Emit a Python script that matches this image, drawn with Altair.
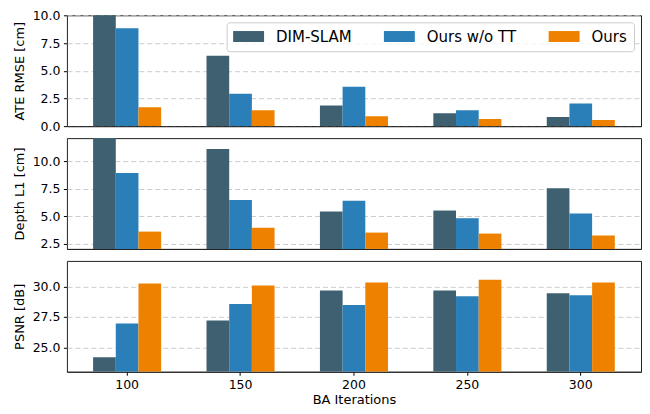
import altair as alt
import pandas as pd

iterations = ["100", "150", "200", "250", "300"]
methods = ["DIM-SLAM", "Ours w/o TT", "Ours"]
colors = ["#3e6070", "#2a7fb8", "#ee8200"]

ate_dim = [10.4, 6.36, 1.87, 1.17, 0.82]
ate_wott = [8.83, 2.93, 3.55, 1.43, 2.05]
ate_ours = [1.70, 1.43, 0.90, 0.64, 0.55]

depth_dim = [12.9, 11.11, 5.42, 5.50, 7.52]
depth_wott = [8.92, 6.47, 6.38, 4.80, 5.24]
depth_ours = [3.58, 3.93, 3.49, 3.40, 3.23]

psnr_dim = [24.18, 27.20, 29.68, 29.68, 29.44]
psnr_wott = [26.97, 28.56, 28.48, 29.20, 29.28]
psnr_ours = [30.24, 30.08, 30.32, 30.56, 30.32]


def long_df(series):
    rows = []
    for m, vals in zip(methods, series):
        for it, v in zip(iterations, vals):
            rows.append({"iter": it, "method": m, "value": v})
    return pd.DataFrame(rows)


def panel(df, title, domain, ticks, show_x, show_legend):
    if show_x:
        x_axis = alt.Axis(labelAngle=0, title="BA Iterations", ticks=True, tickSize=3.5,
                          labelPadding=3, titlePadding=3, domain=True, domainColor="#222")
    else:
        x_axis = alt.Axis(labels=False, ticks=False, title=None, domain=True, domainColor="#222")
    if show_legend:
        legend = alt.Legend(title=None, orient="top-right", offset=7, direction="horizontal",
                            symbolType="M-1,-0.733H3.13V0.733H-1Z", symbolSize=225,
                            symbolStrokeWidth=0, labelFontSize=15, labelOffset=28,
                            columnPadding=32, padding=6.5,
                            fillColor="rgba(255,255,255,0.8)", strokeColor="#cccccc",
                            cornerRadius=3)
    else:
        legend = None
    return alt.Chart(df).mark_bar(clip=True).encode(
        x=alt.X("iter:N", sort=iterations,
                scale=alt.Scale(paddingInner=0.4, paddingOuter=0.231), axis=x_axis),
        xOffset=alt.XOffset("method:N", sort=methods,
                            scale=alt.Scale(paddingInner=0, paddingOuter=0)),
        y=alt.Y("value:Q", stack=None,
                scale=alt.Scale(domain=domain, zero=False, nice=False),
                axis=alt.Axis(values=ticks, format=".1f", title=title, grid=True,
                              titlePadding=6, labelPadding=3.5)),
        color=alt.Color("method:N", sort=methods,
                        scale=alt.Scale(domain=methods, range=colors), legend=legend),
    ).properties(width=575, height=111)


p1 = panel(long_df([ate_dim, ate_wott, ate_ours]), "ATE RMSE [cm]", [0, 10],
           [0, 2.5, 5, 7.5, 10], False, True)
p2 = panel(long_df([depth_dim, depth_wott, depth_ours]), "Depth L1 [cm]", [2.0, 12.1],
           [2.5, 5, 7.5, 10], False, False)
p3 = panel(long_df([psnr_dim, psnr_wott, psnr_ours]), "PSNR [dB]", [23.0, 32.1],
           [25, 27.5, 30], True, False)

chart = alt.vconcat(p1, p2, p3, spacing=12, bounds="flush").resolve_legend(
    color="independent"
).properties(
    padding={"top": 0, "left": 4, "right": 0, "bottom": 0}
).configure(font="DejaVu Sans").configure_view(
    stroke="#222", strokeWidth=1
).configure_axis(
    domain=False, labelFontSize=12.5, titleFontSize=13, titleFontWeight="normal",
    labelColor="black", titleColor="black", tickColor="black", tickSize=3.5,
    gridColor="#cccccc", gridDash=[5, 3], gridWidth=1
)

chart.save("out.html", embed_options={"renderer": "svg", "actions": False})
